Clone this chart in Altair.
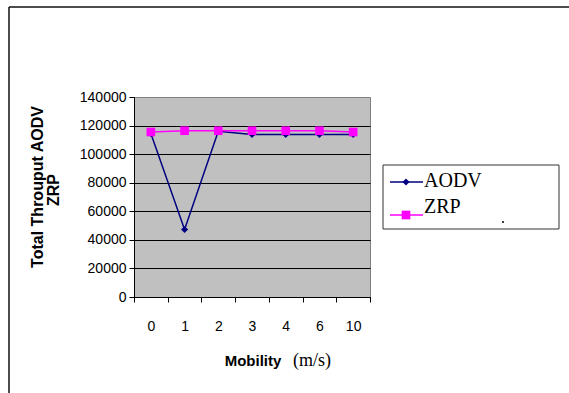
import altair as alt
import pandas as pd

mobility = ["0", "1", "2", "3", "4", "6", "10"]
aodv = [114500, 47300, 116000, 113800, 113800, 113800, 113800]
zrp = [115500, 116400, 116400, 116400, 116400, 116400, 115500]
series = ["AODV", "ZRP"]
colors = ["#000080", "#FF00FF"]
y_ticks = [0, 20000, 40000, 60000, 80000, 100000, 120000, 140000]

df = pd.DataFrame({
    "mobility": mobility * 2,
    "value": aodv + zrp,
    "series": ["AODV"] * len(mobility) + ["ZRP"] * len(mobility),
})

W, H = 236, 200
one = pd.DataFrame({"k": [0]})

x_enc = alt.X(
    "mobility:O", sort=mobility,
    scale=alt.Scale(paddingInner=0, paddingOuter=0),
    axis=alt.Axis(title=None, labelAngle=0, tickBand="extent", tickSize=5,
                  tickColor="black", domainColor="black", labelPadding=17,
                  labelFont="Liberation Sans", labelFontSize=14, labelColor="black",
                  grid=False),
)
y_enc = alt.Y(
    "value:Q", scale=alt.Scale(domain=[0, 140000], nice=False),
    axis=alt.Axis(title=None, values=y_ticks, format="d", tickSize=5, tickColor="black",
                  domainColor="black", labelPadding=3, labelFont="Liberation Sans",
                  labelFontSize=14, labelColor="black", grid=True,
                  gridColor=alt.condition("datum.value >= 140000", alt.value("#808080"), alt.value("black")),
                  gridOpacity=1, gridWidth=1),
)
color_enc = alt.Color("series:N", scale=alt.Scale(domain=series, range=colors), legend=None)

base = alt.Chart(df)
lines = []
for s, shp, sz in [("AODV", "diamond", 50), ("ZRP", "square", 75)]:
    sub = base.transform_filter(alt.datum.series == s)
    lines.append(sub.mark_line(strokeWidth=1.5).encode(x=x_enc, y=y_enc, color=color_enc))
    lines.append(sub.mark_point(shape=shp, filled=True, size=sz, opacity=1).encode(x=x_enc, y=y_enc, color=color_enc))

ox, oy = 134, 97  # plot origin in page pixels

def px(v):
    return alt.value(v - ox)

def py(v):
    return alt.value(v - oy)

oc = alt.Chart(one)

frame_top = oc.mark_rule(color="#111", strokeWidth=1.5).encode(x=px(9), x2=px(575), y=py(7))
frame_left = oc.mark_rule(color="#111", strokeWidth=1.5).encode(x=px(9), y=py(7), y2=py(400))

ytitle1 = oc.mark_text(angle=270, font="Liberation Sans", fontWeight="bold", fontSize=16,
                       align="center", baseline="middle", color="black").encode(
    x=px(38), y=py(187), text=alt.value("Total Throuput AODV"))
ytitle2 = oc.mark_text(angle=270, font="Liberation Sans", fontWeight="bold", fontSize=16,
                       align="center", baseline="middle", color="black").encode(
    x=px(54), y=py(190), text=alt.value("ZRP"))

xtitle1 = oc.mark_text(font="Liberation Sans", fontWeight="bold", fontSize=15,
                       align="center", baseline="middle", color="black").encode(
    x=px(253), y=py(361), text=alt.value("Mobility"))
xtitle2 = oc.mark_text(font="Liberation Serif", fontSize=18,
                       align="center", baseline="middle", color="black").encode(
    x=px(312), y=py(361), text=alt.value("(m/s)"))

# legend
leg_box = oc.mark_rect(fill="white", stroke="#333", strokeWidth=1).encode(
    x=px(383), x2=px(559), y=py(165), y2=py(229))
leg_parts = []
for i, (s, c, shp, sz) in enumerate([("AODV", colors[0], "diamond", 50), ("ZRP", colors[1], "square", 75)]):
    ly = 182 if i == 0 else 215
    ty = 181 if i == 0 else 207
    leg_parts.append(oc.mark_rule(color=c, strokeWidth=1.5).encode(x=px(390), x2=px(423), y=py(ly)))
    leg_parts.append(oc.mark_point(shape=shp, filled=True, size=sz, color=c, opacity=1).encode(x=px(406), y=py(ly)))
    leg_parts.append(oc.mark_text(font="Liberation Serif", fontSize=20, align="left",
                                  baseline="middle", color="black").encode(
        x=px(424), y=py(ty), text=alt.value(s)))
dot = oc.mark_point(shape="circle", filled=True, size=4, color="black", opacity=1).encode(
    x=px(503), y=py(222))

chart = alt.layer(
    *lines, frame_top, frame_left, ytitle1, ytitle2, xtitle1, xtitle2, leg_box, *leg_parts, dot
).properties(
    width=W, height=H,
    autosize=alt.AutoSizeParams(type="none"),
    padding={"left": ox, "top": oy, "right": 569 - ox - W, "bottom": 393 - oy - H},
    background="white",
).configure_view(fill="#C0C0C0", stroke="#808080")

chart.save("out.html", embed_options={"renderer": "svg", "actions": False})
